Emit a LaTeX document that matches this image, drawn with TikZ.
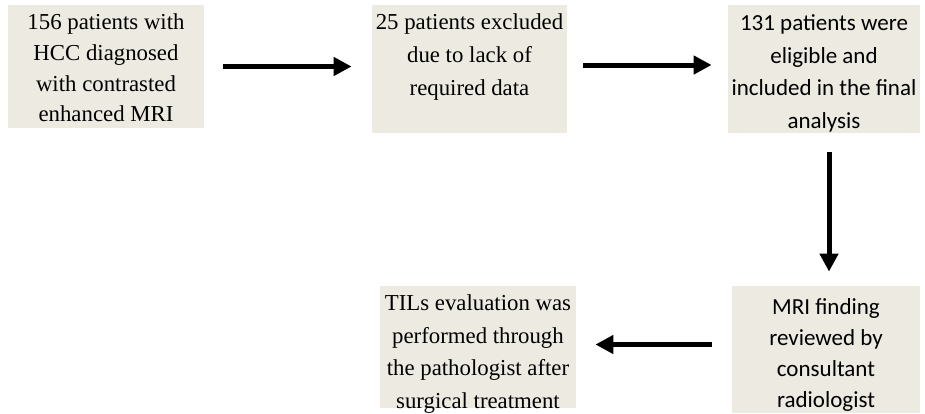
\documentclass[tikz,border=0pt]{standalone}
\usepackage{fontspec}
\setmainfont{Liberation Serif}
\newfontfamily\calibrifont{Carlito}
\usetikzlibrary{arrows.meta, calc}
\definecolor{boxbeige}{RGB}{236, 234, 225}

\begin{document}
\begin{tikzpicture}[x=0.5pt, y=-0.5pt,
    flowbox/.style={fill=boxbeige, inner sep=0pt},
    seriftext/.style={inner sep=0pt, align=center, font=\fontsize{11.4}{#1}\selectfont},
    sanstext/.style={inner sep=0pt, align=center, font=\calibrifont\fontsize{11.5}{#1}\selectfont},
    flowarrow/.style={line width=2.5pt, -{Triangle[length=9pt, width=9pt]}}]
  \useasboundingbox (0,0) rectangle (925,413);

  % Boxes
  \node[flowbox, minimum width=98pt, minimum height=61.5pt] (allpat) at (106, 66.5) {};
  \node[flowbox, minimum width=97.5pt, minimum height=64pt] (excluded) at (469.5, 69) {};
  \node[flowbox, minimum width=96pt, minimum height=64pt] (included) at (824, 69) {};
  \node[flowbox, minimum width=94pt, minimum height=63.5pt] (mrireview) at (826, 349.5) {};
  \node[flowbox, minimum width=98pt, minimum height=61pt] (tils) at (478, 347) {};

  % Box texts
  \node[seriftext=15.3pt] (allpat-txt) at (106, 68) {
    156 patients with\\
    HCC diagnosed\\
    with contrasted\\
    enhanced MRI
  };
  \node[seriftext=16.5pt] (excluded-txt) at (469.5, 57) {
    25 patients excluded\\
    due to lack of\\
    required data
  };
  \node[sanstext=16.3pt] (included-txt) at (824, 73.5) {
    131 patients were\\
    eligible and\\
    included in the final\\
    analysis
  };
  \node[sanstext=15.5pt] (mrireview-txt) at (826, 354.5) {
    MRI finding\\
    reviewed by\\
    consultant\\
    radiologist
  };
  \node[seriftext=16.3pt] (tils-txt) at (478, 354) {
    TILs evaluation was\\
    performed through\\
    the pathologist after\\
    surgical treatment
  };

  % Arrows
  \draw[flowarrow, shorten <=9.5pt, shorten >=10pt] (allpat.east) -- (allpat.east -| excluded.west);
  \draw[flowarrow, shorten <=8pt, shorten >=8pt] ([yshift=2pt]excluded.east) -- ([yshift=2pt]excluded.east -| included.west);
  \draw[flowarrow, shorten <=9.5pt, shorten >=7pt] ([xshift=2.5pt]included.south) -- ([xshift=2.5pt]included.south |- mrireview.north);
  \draw[flowarrow, shorten <=10pt, shorten >=9.5pt] ([yshift=2.5pt]mrireview.west) -- ([yshift=2.5pt]mrireview.west -| tils.east);
\end{tikzpicture}
\end{document}
